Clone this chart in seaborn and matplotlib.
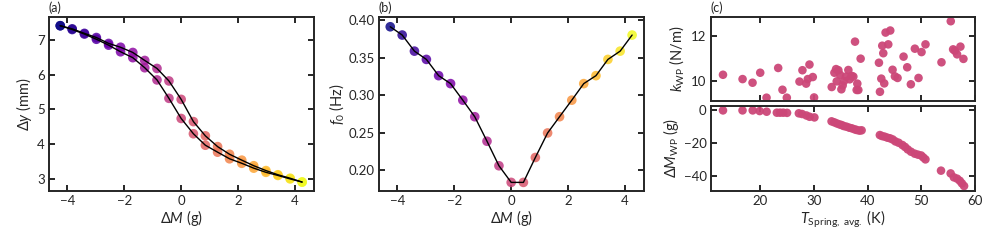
import numpy as np
import pandas as pd
import matplotlib
matplotlib.use("Agg")
import matplotlib.pyplot as plt
import seaborn as sns

sns.set_style("ticks")
plt.rcParams['font.family'] = ['Lato', 'DejaVu Sans']
plt.rcParams['mathtext.fontset'] = 'custom'
plt.rcParams['mathtext.rm'] = 'Lato'
plt.rcParams['mathtext.it'] = 'Lato:italic'
plt.rcParams['mathtext.bf'] = 'Lato:bold'

# ---- panel (a): displacement vs added mass, two branches
dm = [-4.25, -3.83, -3.4, -2.98, -2.55, -2.13, -1.7, -1.28, -0.85, -0.43, 0.0,
      0.43, 0.85, 1.28, 1.7, 2.13, 2.55, 2.98, 3.4, 3.83, 4.25]
dy_up = [7.41, 7.32, 7.19, 7.07, 6.90, 6.79, 6.64, 6.41, 6.18, 5.82, 5.29,
         4.65, 4.24, 3.93, 3.71, 3.54, 3.38, 3.24, 3.12, 3.02, 2.91]
dy_down = [7.41, 7.30, 7.17, 7.02, 6.85, 6.66, 6.49, 6.20, 5.85, 5.32, 4.74,
           4.30, 3.97, 3.77, 3.58, 3.45, 3.31, 3.19, 3.10, 3.00, 2.91]

# ---- panel (b): resonance frequency vs added mass
f0 = [0.391, 0.380, 0.3586, 0.3476, 0.326, 0.3154, 0.2934, 0.2714, 0.2388, 0.2062, 0.1841,
      0.1841, 0.2172, 0.2498, 0.2714, 0.2934, 0.3154, 0.326, 0.3476, 0.3586, 0.380]

# ---- panel (c) top: spring constant vs spring temperature
t_k = [13.06, 16.71, 18.57, 20.0, 21.18, 23.35, 24.15, 24.96, 27.32, 27.87, 28.56, 28.87,
       29.18, 29.80, 30.04, 33.33, 33.83, 34.14, 34.26, 34.57, 34.88, 35.13, 35.37, 35.62,
       36.0, 36.43, 36.68, 37.05, 37.36, 37.67, 37.98, 38.10, 38.29, 38.72, 42.13, 42.32,
       42.57, 42.75, 42.94, 43.12, 43.37, 43.87, 44.24, 44.67, 45.11, 45.60, 46.72, 47.40,
       48.08, 48.83, 49.51, 50.07, 50.81, 53.79, 55.52, 55.96, 56.27, 56.70, 57.32, 57.88]
k_wp = [10.29, 10.10, 9.94, 10.38, 9.28, 10.59, 9.63, 9.28, 9.99, 10.49, 9.90, 10.10,
        10.74, 10.19, 9.29, 9.75, 10.38, 10.54, 10.0, 10.49, 10.29, 9.65, 9.82, 10.01,
        10.21, 10.50, 10.09, 10.24, 10.21, 11.75, 9.62, 9.90, 9.62, 11.0, 10.82, 9.54,
        10.12, 11.57, 11.24, 9.91, 12.15, 11.63, 12.24, 10.51, 10.22, 10.15, 11.09, 10.62,
        9.87, 11.44, 10.15, 11.29, 11.63, 10.84, 12.65, 11.41, 11.35, 11.19, 11.53, 10.99]

# ---- panel (c) bottom: mass change vs spring temperature
t_m = [13.06, 16.7, 18.6, 19.9, 21.2, 23.1, 23.7, 24.3, 25.0, 27.2, 27.8, 28.6, 29.2, 30.1,
       33.3, 33.8, 34.3, 34.8, 35.2, 35.6, 36.1, 36.6, 37.1, 37.6, 38.0, 38.5, 38.9,
       42.3, 42.7, 43.2, 43.7, 44.2, 44.7, 45.2, 45.8, 46.5, 47.0, 47.5, 48.1, 48.8,
       49.4, 50.0, 50.4, 50.8, 53.7, 55.5, 56.1, 56.7, 57.2, 57.6, 58.0]
dm_wp = [0.0, 0.0, 0.0, -0.4, -0.8, -1.4, -1.4, -1.4, -1.5, -1.8, -2.2, -3.1, -3.9, -4.3,
         -6.7, -7.3, -8.0, -8.6, -9.0, -9.6, -10.0, -10.6, -11.0, -11.6, -12.0, -12.4, -12.2,
         -15.1, -15.7, -16.1, -16.7, -17.1, -17.8, -19.0, -19.8, -21.2, -22.4, -23.9, -25.3,
         -26.5, -27.1, -27.6, -28.8, -30.0, -36.9, -38.6, -41.0, -41.8, -43.1, -44.7, -46.3]

dfa = pd.DataFrame({'dm': dm + dm, 'dy': dy_up + dy_down,
                    'branch': ['up'] * len(dm) + ['down'] * len(dm)})
dfb = pd.DataFrame({'dm': dm, 'f0': f0})
dfk = pd.DataFrame({'T': t_k, 'k': k_wp})
dfm = pd.DataFrame({'T': t_m, 'dM': dm_wp})

fig = plt.figure(figsize=(9.97, 2.49), dpi=100)
ax_a = fig.add_axes([0.049, 0.234, 0.266, 0.699])
ax_b = fig.add_axes([0.380, 0.234, 0.266, 0.699])
ax_c1 = fig.add_axes([0.713, 0.594, 0.265, 0.339])
ax_c2 = fig.add_axes([0.713, 0.234, 0.265, 0.340])

norm = (-4.25, 4.25)
msize = 48
pink = '#cc4778'

# (a)
sns.lineplot(data=dfa, x='dm', y='dy', units='branch', estimator=None, color='black',
             lw=1.0, ax=ax_a, zorder=3, sort=False)
sns.scatterplot(data=dfa, x='dm', y='dy', hue='dm', palette='plasma', hue_norm=norm,
                s=msize, alpha=0.85, edgecolor='none', legend=False, ax=ax_a, zorder=2)
ax_a.set_xlim(-4.65, 4.67)
ax_a.set_ylim(2.66, 7.67)
ax_a.set_yticks([3, 4, 5, 6, 7])
ax_a.set_xticks([-4, -2, 0, 2, 4])
ax_a.set_xlabel(r'$\Delta M$ (g)', fontsize=10.5, labelpad=1)
ax_a.set_ylabel(r'$\Delta y$ (mm)', fontsize=10.5, labelpad=2)

# (b)
sns.lineplot(data=dfb, x='dm', y='f0', color='black', lw=1.0, ax=ax_b, zorder=3)
sns.scatterplot(data=dfb, x='dm', y='f0', hue='dm', palette='plasma', hue_norm=norm,
                s=msize, alpha=0.85, edgecolor='none', legend=False, ax=ax_b, zorder=2)
ax_b.set_xlim(-4.65, 4.67)
ax_b.set_ylim(0.173, 0.4044)
ax_b.set_yticks([0.20, 0.25, 0.30, 0.35, 0.40])
ax_b.set_yticklabels(['0.20', '0.25', '0.30', '0.35', '0.40'])
ax_b.set_xticks([-4, -2, 0, 2, 4])
ax_b.set_xlabel(r'$\Delta M$ (g)', fontsize=10.5, labelpad=1)
ax_b.set_ylabel(r'$f_0$ (Hz)', fontsize=10.5, labelpad=2)

# (c)
sns.scatterplot(data=dfk, x='T', y='k', color=pink, s=38, alpha=0.95, edgecolor='none',
                ax=ax_c1)
sns.scatterplot(data=dfm, x='T', y='dM', color=pink, s=38, alpha=0.95, edgecolor='none',
                ax=ax_c2)
for ax in (ax_c1, ax_c2):
    ax.set_xlim(10.8, 60.05)
    ax.set_xticks([20, 30, 40, 50, 60])
ax_c1.set_ylim(9.13, 12.85)
ax_c1.set_yticks([10, 12])
ax_c1.set_xticklabels([])
ax_c1.set_xlabel('')
ax_c1.set_ylabel(r'$k_\mathrm{WP}$ (N/m)', fontsize=10.5, labelpad=4)
ax_c2.set_ylim(-49.2, 2.65)
ax_c2.set_yticks([-40, -20, 0])
ax_c2.set_xlabel(r'$T_\mathrm{Spring,\ avg.}$ (K)', fontsize=10.5, labelpad=1)
ax_c2.set_ylabel(r'$\Delta M_\mathrm{WP}$ (g)', fontsize=10.5, labelpad=2)

for ax in (ax_a, ax_b, ax_c1, ax_c2):
    for sp in ax.spines.values():
        sp.set_linewidth(1.4)
        sp.set_visible(True)
    ax.tick_params(direction='in', top=True, right=True, length=4, width=1.4,
                   labelsize=9.5, pad=3)

fig.text(0.049, 0.945, '(a)', fontsize=9, ha='left', va='bottom')
fig.text(0.380, 0.945, '(b)', fontsize=9, ha='left', va='bottom')
fig.text(0.713, 0.945, '(c)', fontsize=9, ha='left', va='bottom')

fig.savefig('out.png', dpi=100)
